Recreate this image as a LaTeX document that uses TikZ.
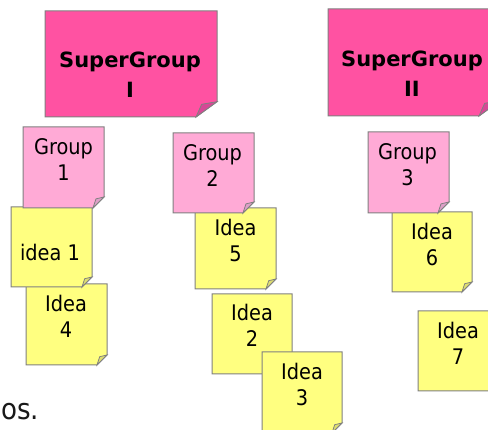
\documentclass[tikz,border=0pt]{standalone}
\usepackage{fontspec}
\setmainfont{DejaVu Sans}
\newfontfamily\notefont{DejaVu Sans Condensed}
\definecolor{sgfill}{RGB}{255,82,162}
\definecolor{sgflap}{RGB}{214,72,150}
\definecolor{grfill}{RGB}{255,170,214}
\definecolor{grflap}{RGB}{222,160,200}
\definecolor{idfill}{RGB}{255,255,128}
\definecolor{idflap}{RGB}{222,222,112}
\definecolor{edgegray}{RGB}{128,128,128}
\tikzset{
  notebody/.style={draw=edgegray, line width=1pt, line join=miter},
  notetext/.style={font=\notefont\fontsize{21.5}{26}\selectfont, align=center, inner sep=0pt, anchor=center, text=black},
  sgtext/.style={font=\bfseries\fontsize{21}{30}\selectfont, align=center, inner sep=0pt, anchor=center, text=black},
}
% l, t, r, b, fold x, fold y, fill, flap
\newcommand\stickynote[8]{%
  \filldraw[notebody, fill=#7] (#1,#2) -- (#3,#2) -- (#3,#4-#6) -- (#3-#5,#4) -- (#1,#4) -- cycle;
  \filldraw[notebody, fill=#8, line width=0.8pt] (#3-#5,#4) -- (#3-0.73*#5,#4-0.83*#6) -- (#3,#4-#6) -- cycle;}
\begin{document}
\begin{tikzpicture}[x=1pt,y=-1pt]
\useasboundingbox (0,0) rectangle (488,430);
\fill[white] (0,0) rectangle (488,430);

% column 1
\stickynote{26}{284}{107}{365}{10}{10}{idfill}{idflap}
\node[notetext] (i4) at (66,316) {Idea\\4};
\stickynote{11}{207}{92}{287}{10}{10}{idfill}{idflap}
\node[notetext] (i1) at (50,252) {idea 1};
\stickynote{23}{127}{104}{208}{11}{11}{grfill}{grflap}
\node[notetext] (g1) at (63.5,160) {Group\\1};

% column 2
\stickynote{195}{208}{276}{289}{10}{10}{idfill}{idflap}
\node[notetext] (i5) at (235.5,240) {Idea\\5};
\stickynote{173}{133}{254}{213}{11}{11}{grfill}{grflap}
\node[notetext] (g2) at (212.5,166) {Group\\2};
\stickynote{212}{294}{292}{374}{10}{10}{idfill}{idflap}
\node[notetext] (i2) at (252,325.5) {Idea\\2};
\stickynote{262}{352}{342}{433}{10}{10}{idfill}{idflap}
\node[notetext] (i3) at (302,384.5) {Idea\\3};

% column 3
\stickynote{392}{212}{472}{292}{10}{10}{idfill}{idflap}
\node[notetext] (i6) at (432,244) {Idea\\6};
\stickynote{368}{132}{449}{213}{11}{11}{grfill}{grflap}
\node[notetext] (g3) at (407.5,165) {Group\\3};
\stickynote{418}{311}{499}{391}{10}{10}{idfill}{idflap}
\node[notetext] (i7) at (458,343) {Idea\\7};

% supergroups
\stickynote{45}{11}{217}{117}{21}{15.3}{sgfill}{sgflap}
\node[sgtext] (sg1) at (130,75) {SuperGroup\\I};
\stickynote{328}{9}{500}{116}{21}{15.3}{sgfill}{sgflap}
\node[sgtext] (sg2) at (412,74) {SuperGroup\\II};

% caption fragment
\node[font=\notefont\fontsize{29}{34}\selectfont, anchor=base west, inner sep=0pt, text=black!90] (cap) at (1,420) {os.};
\end{tikzpicture}
\end{document}
